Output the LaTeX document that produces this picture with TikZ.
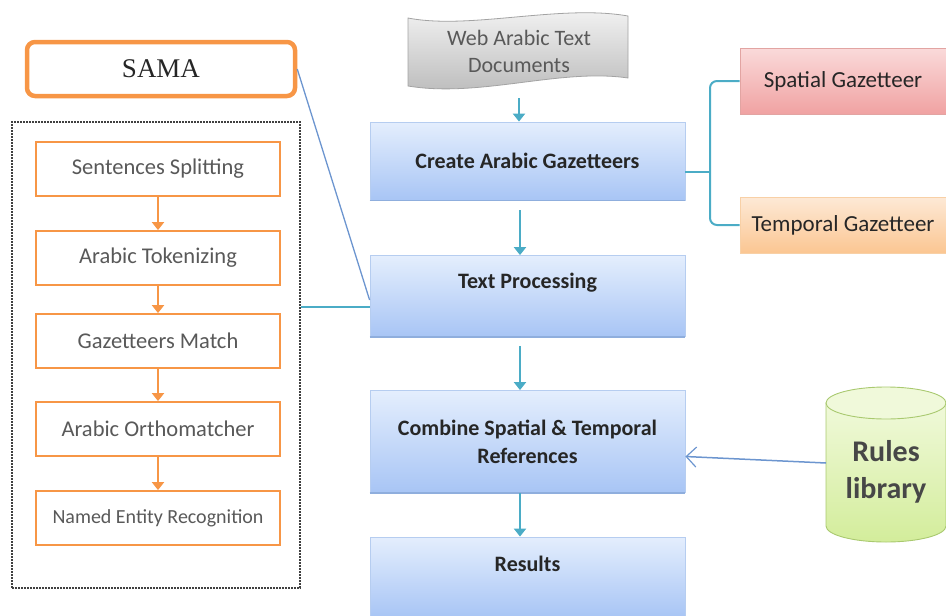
\documentclass[tikz,border=0pt]{standalone}
\usepackage{fontspec}
\setmainfont{Carlito}
\newfontfamily\samafont{Liberation Serif}
\usetikzlibrary{arrows.meta,calc}
\definecolor{tealc}{HTML}{4BACC6}
\definecolor{orangec}{HTML}{F79646}
\definecolor{bluetop}{HTML}{E4EEFD}
\definecolor{bluebot}{HTML}{A8C5F5}
\definecolor{blueborder}{HTML}{B6CDF0}
\definecolor{blueedge}{HTML}{8FAEDD}
\definecolor{redtop}{HTML}{FADADA}
\definecolor{redbot}{HTML}{F0A2A2}
\definecolor{redborder}{HTML}{E2A4A2}
\definecolor{ortop}{HTML}{FDE9D6}
\definecolor{orbot}{HTML}{FBC692}
\definecolor{orborder}{HTML}{F8D0A6}
\definecolor{graytop}{HTML}{F5F5F5}
\definecolor{graybot}{HTML}{B9B9B9}
\definecolor{grayborder}{HTML}{A3A3A3}
\definecolor{greentop}{HTML}{F0F9DA}
\definecolor{greenbot}{HTML}{D3ED9B}
\definecolor{greenborder}{HTML}{A9C96F}
\definecolor{diagblue}{HTML}{6C95CF}
\definecolor{txtdark}{HTML}{262626}
\definecolor{txtgray}{HTML}{595959}
\begin{document}
\begin{tikzpicture}[x=1pt,y=-1pt,
  bluebox/.style={draw=blueborder, line width=0.8pt, top color=bluetop, bottom color=bluebot,
    minimum width=315pt, inner sep=0pt},
  btext/.style={font=\fontsize{22}{28}\selectfont\bfseries, text=txtdark, align=center, inner sep=0pt},
  obox/.style={draw=orangec, line width=1.8pt, fill=white, minimum width=244pt, minimum height=54pt, inner sep=0pt,
    font=\fontsize{22.5}{26}\selectfont, text=txtgray},
  flow/.style={draw=tealc, line width=2.6pt, -{Triangle[length=8pt,width=12pt]}},
  oflow/.style={draw=orangec, line width=2.6pt, -{Triangle[length=8pt,width=12pt]}},
  gaz/.style={line width=0.8pt, minimum width=206pt, inner sep=0pt, font=\fontsize{23}{26}\selectfont, text=txtdark},
]
\useasboundingbox (0,0) rectangle (946,616);

% SAMA
\node[draw=orangec, line width=4.5pt, rounded corners=8pt, minimum width=268pt, minimum height=54pt, inner sep=0pt,
  font=\samafont\fontsize{27}{30}\selectfont, text=txtdark] (sama) at (161,69) {SAMA};

% dashed container
\node[draw=black!75, line width=1.6pt, dash pattern=on 2pt off 1pt, minimum width=288pt, minimum height=466pt, inner sep=0pt] (dash) at (156,355) {};

% inner orange boxes
\node[obox] (s1) at (158,169) {Sentences Splitting};
\node[obox] (s2) at (158,258) {Arabic Tokenizing};
\node[obox] (s3) at (158,341) {Gazetteers Match};
\node[obox] (s4) at (158,429) {Arabic Orthomatcher};
\node[obox, font=\fontsize{20}{24}\selectfont] (s5) at (158,518) {Named Entity Recognition};
\draw[oflow] (s1) -- (s2);
\draw[oflow] (s2) -- (s3);
\draw[oflow] (s3) -- (s4);
\draw[oflow] (s4) -- (s5);

% document shape
\path[draw=grayborder, line width=0.8pt, top color=graytop, bottom color=graybot]
  (408,18) .. controls (470,30) and (560,4) .. (628,16)
  -- (628,78) .. controls (560,68) and (480,98) .. (408,86) -- cycle;
\node[font=\fontsize{22}{27}\selectfont, text=txtgray, align=center, inner sep=0pt] (doc) at (519,51) {Web Arabic Text\\Documents};

% main flow boxes
\node[bluebox, minimum height=78pt] (cag) at (527.5,161) {};
\node[btext] at (cag.center) {Create Arabic Gazetteers};
\node[bluebox, minimum height=81pt] (tp) at (527.5,296) {};
\node[btext] at ([yshift=13pt]tp.center) {Text Processing};
\node[bluebox, minimum height=102pt] (comb) at (527.5,441.5) {};
\node[btext] at (comb.center) {Combine Spatial \& Temporal\\References};
\node[bluebox, minimum height=80pt] (res) at (527.5,577) {};
\node[btext] at ([yshift=13pt]res.center) {Results};
\foreach \n in {cag,tp,comb,res}{
  \draw[blueedge, line width=1.4pt] (\n.south west) -- (\n.south east);
}

\draw[flow] ([yshift=-26pt]doc.south) -- (doc.south |- cag.north);
\draw[flow, shorten <=10pt] ([xshift=-7.5pt]cag.south) -- ([xshift=-7.5pt]tp.north);
\draw[flow, shorten <=9pt] ([xshift=-7.5pt]tp.south) -- ([xshift=-7.5pt]comb.north);
\draw[flow] ([xshift=-7.5pt]comb.south) -- ([xshift=-7.5pt]res.north);

% gazetteers
\node[gaz, draw=redborder, top color=redtop, bottom color=redbot, minimum height=66pt] (sg) at (843,81) {Spatial Gazetteer};
\node[gaz, draw=orborder, top color=ortop, bottom color=orbot, minimum height=56pt] (tg) at (843,225) {Temporal Gazetteer};
\coordinate (br) at (710,172);
\draw[tealc, line width=2pt] ([yshift=-11pt]cag.east) -- (br);
\draw[tealc, line width=2pt, rounded corners=7pt] (sg.west) -- (sg.west -| br) -- (br) -- (br |- tg.west) -- (tg.west);

% SAMA links
\draw[diagblue, line width=1.3pt] (sama.east) -- ([yshift=-4pt]tp.west);
\coordinate (tj) at ([yshift=-11pt]tp.west);
\draw[tealc, line width=2.5pt] (tj) -- (tj -| dash.east);

% Rules library cylinder
\path[draw=greenborder, line width=0.9pt, top color=greentop, bottom color=greenbot]
  (826,403) -- (826,526) arc[start angle=180, end angle=0, x radius=60, y radius=16] -- (946,403) -- cycle;
\draw[greenborder, line width=0.9pt, fill=greentop] (886,403) ellipse [x radius=60, y radius=16];
\node[font=\fontsize{30}{37}\selectfont\bfseries, text=txtdark!85, align=center, inner sep=0pt] (rules) at (886,472) {Rules\\library};
\coordinate (cylw) at (826,463);
\draw[diagblue, line width=1.5pt, -{Straight Barb[length=10pt,width=20pt,line width=1.2pt]}] (cylw) -- ([yshift=-15pt]comb.east);
\end{tikzpicture}
\end{document}
